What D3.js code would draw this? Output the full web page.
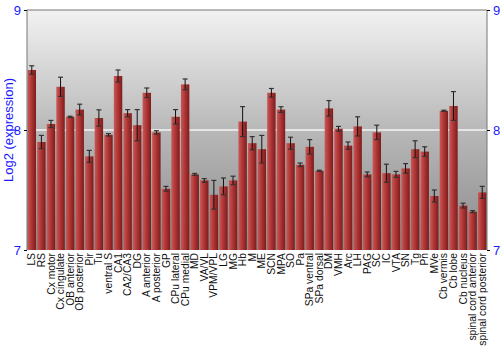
<!DOCTYPE html>
<html>
<head>
<meta charset="utf-8">
<script src="https://cdn.jsdelivr.net/npm/d3@7"></script>
<style>
  body { margin: 0; background: #fff; }
  svg { display: block; font-family: "Liberation Sans", Arial, sans-serif; }
</style>
</head>
<body>
<div id="chart"></div>
<script>
const categories = ["LS", "RS", "Cx motor", "Cx cingulate", "OB anterior", "OB posterior", "Pir", "Tu",
  "ventral S", "CA1", "CA2/CA3", "DG", "A anterior", "A posterior", "GP", "CPu lateral", "CPu medial",
  "MD", "VA/VL", "VPM/VPL", "LG", "MG", "Hb", "M", "ME", "SCN", "MPA", "SO", "Pa", "SPa ventral",
  "SPa dorsal", "DM", "VMH", "Arc", "LH", "PAG", "SC", "IC", "VTA", "SN", "Tg", "Pn", "MVe",
  "Cb vermis", "Cb lobe", "Cb nucleus", "spinal cord anterior", "spinal cord posterior"];

const values = [8.50, 7.90, 8.05, 8.36, 8.11, 8.17, 7.78, 8.10,
  7.96, 8.45, 8.14, 8.04, 8.31, 7.98, 7.51, 8.11, 8.38,
  7.63, 7.58, 7.46, 7.53, 7.58, 8.07, 7.89, 7.84, 8.31, 8.17, 7.89, 7.71, 7.86,
  7.66, 8.18, 8.01, 7.87, 8.03, 7.63, 7.98, 7.64, 7.63, 7.68, 7.84, 7.82, 7.45,
  8.16, 8.20, 7.37, 7.32, 7.48];

const errors = [0.035, 0.055, 0.03, 0.08, 0.005, 0.045, 0.05, 0.068,
  0.01, 0.05, 0.03, 0.13, 0.04, 0.014, 0.02, 0.06, 0.045,
  0.008, 0.015, 0.12, 0.07, 0.035, 0.125, 0.055, 0.115, 0.036, 0.024, 0.05, 0.015, 0.06,
  0.005, 0.065, 0.02, 0.03, 0.08, 0.02, 0.06, 0.075, 0.025, 0.04, 0.07, 0.04, 0.05,
  0.005, 0.12, 0.02, 0.008, 0.05];

const yTicks = [7, 8, 9];

const width = 500, height = 350;
const margin = { top: 10, right: 13, bottom: 100, left: 27 };
const innerW = width - margin.left - margin.right;
const innerH = height - margin.top - margin.bottom;

const svg = d3.select("#chart").append("svg")
  .attr("width", width)
  .attr("height", height);

const defs = svg.append("defs");

const bg = defs.append("linearGradient").attr("id", "bg")
  .attr("x1", 0).attr("y1", 0).attr("x2", 0).attr("y2", 1);
bg.append("stop").attr("offset", "0%").attr("stop-color", "#f2f2f2");
bg.append("stop").attr("offset", "50%").attr("stop-color", "#b8b8b8");
bg.append("stop").attr("offset", "100%").attr("stop-color", "#8a8a8a");

const barGrad = defs.append("linearGradient").attr("id", "barGrad")
  .attr("x1", 0).attr("y1", 0).attr("x2", 1).attr("y2", 0);
barGrad.append("stop").attr("offset", "0%").attr("stop-color", "#c65a58");
barGrad.append("stop").attr("offset", "45%").attr("stop-color", "#b23636");
barGrad.append("stop").attr("offset", "100%").attr("stop-color", "#7c1c1c");

const g = svg.append("g").attr("transform", `translate(${margin.left},${margin.top})`);

const x = d3.scaleBand().domain(categories).range([0, innerW]).paddingInner(0.12).paddingOuter(0.06);
const y = d3.scaleLinear().domain([7, 9]).range([innerH, 0]);

// background
g.append("rect")
  .attr("width", innerW)
  .attr("height", innerH)
  .attr("fill", "url(#bg)");

// grid line at 8
g.selectAll(".grid")
  .data(yTicks.filter(t => t > 7 && t < 9))
  .enter().append("line")
  .attr("x1", 0).attr("x2", innerW)
  .attr("y1", d => y(d)).attr("y2", d => y(d))
  .attr("stroke", "#f4f4f4")
  .attr("stroke-width", 1.5);

// bars
g.selectAll(".bar")
  .data(categories)
  .enter().append("rect")
  .attr("x", d => x(d))
  .attr("width", x.bandwidth())
  .attr("y", (d, i) => y(values[i]))
  .attr("height", (d, i) => y(7) - y(values[i]))
  .attr("fill", "url(#barGrad)");

// error bars
const eb = g.selectAll(".err")
  .data(categories)
  .enter().append("g");

eb.append("line")
  .attr("x1", d => x(d) + x.bandwidth() / 2)
  .attr("x2", d => x(d) + x.bandwidth() / 2)
  .attr("y1", (d, i) => y(values[i] + errors[i]))
  .attr("y2", (d, i) => y(values[i] - errors[i]))
  .attr("stroke", "#111")
  .attr("stroke-width", 1);

[1, -1].forEach(s => {
  eb.append("line")
    .attr("x1", d => x(d) + x.bandwidth() / 2 - 2.5)
    .attr("x2", d => x(d) + x.bandwidth() / 2 + 2.5)
    .attr("y1", (d, i) => y(values[i] + s * errors[i]))
    .attr("y2", (d, i) => y(values[i] + s * errors[i]))
    .attr("stroke", "#333")
    .attr("stroke-width", 1.2);
});

// frame
g.append("line").attr("x1", 0).attr("x2", innerW).attr("y1", 0).attr("y2", 0)
  .attr("stroke", "#777");
g.append("line").attr("x1", 0).attr("x2", 0).attr("y1", 0).attr("y2", innerH)
  .attr("stroke", "#777");
g.append("line").attr("x1", innerW).attr("x2", innerW).attr("y1", 0).attr("y2", innerH)
  .attr("stroke", "#777");

// y axes
const leftAxis = g.append("g")
  .call(d3.axisLeft(y).tickValues(yTicks).tickFormat(d3.format("d")).tickSize(3).tickPadding(3));
const rightAxis = g.append("g")
  .attr("transform", `translate(${innerW},0)`)
  .call(d3.axisRight(y).tickValues(yTicks).tickFormat(d3.format("d")).tickSize(3).tickPadding(3));

[leftAxis, rightAxis].forEach(a => {
  a.select(".domain").remove();
  a.selectAll(".tick line").attr("stroke", "#000");
  a.selectAll(".tick text")
    .attr("fill", "#1a1aff")
    .style("font-size", "13px")
    .style("font-family", "Liberation Sans, Arial, sans-serif");
});

// x labels
const xAxis = g.append("g")
  .attr("transform", `translate(0,${innerH})`)
  .call(d3.axisBottom(x).tickSize(0).tickPadding(0));
xAxis.select(".domain").remove();
xAxis.selectAll(".tick text")
  .attr("transform", "rotate(-90)")
  .attr("x", -3)
  .attr("y", 0)
  .attr("dy", "0.35em")
  .attr("text-anchor", "end")
  .attr("fill", "#111")
  .style("font-size", "10.3px")
  .style("font-family", "Liberation Sans, Arial, sans-serif");

// y label
svg.append("text")
  .attr("transform", `translate(13,${margin.top + innerH / 2}) rotate(-90)`)
  .attr("text-anchor", "middle")
  .attr("fill", "#1a1aff")
  .style("font-size", "13px")
  .text("Log2 (expression)");
</script>
</body>
</html>
